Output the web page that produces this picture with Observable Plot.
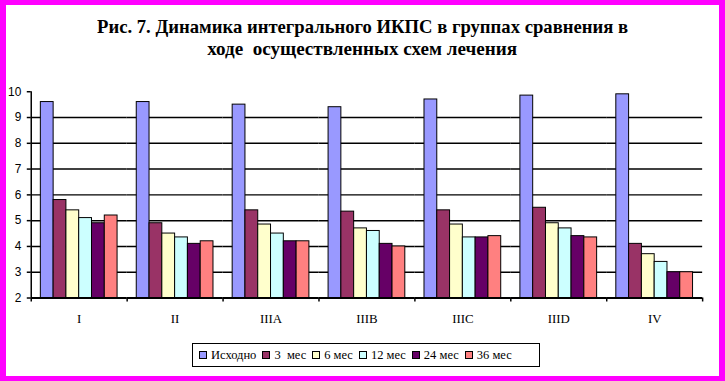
<!DOCTYPE html>
<html>
<head>
<meta charset="utf-8">
<script src="https://cdn.jsdelivr.net/npm/d3@7"></script>
<script src="https://cdn.jsdelivr.net/npm/@observablehq/plot@0.6"></script>
<style>
  html, body { margin: 0; padding: 0; background: white; }
  #page { position: relative; width: 725px; height: 381px; box-sizing: border-box;
          border-style: solid; border-color: #FF00FF; border-width: 5px 6px 5px 6px; background: white; overflow: hidden; }
  #chart { position: absolute; left: -6px; top: -5px; }
  .title { position: absolute; left: 0; width: 713px; text-align: center; white-space: nowrap;
           font-family: "Liberation Serif", "Times New Roman", serif; font-weight: bold; font-size: 19px; color: #000; }
  .title span { display: inline-block; transform-origin: center; }
  #legend { position: absolute; left: 186px; top: 338px; width: 346px; height: 22px; border: 1px solid #000;
            display: flex; align-items: center; font-family: "Liberation Serif", "Times New Roman", serif; font-size: 12.5px; color: #000; }
  .item { display: flex; align-items: center; margin-left: 6px; }
  .sw { width: 6px; height: 6px; border: 1px solid #000; margin-right: 4px; }
</style>
</head>
<body>
<div id="page">
  <div id="chart"></div>
  <div class="title" id="t1" style="top:11px"><span>Рис. 7. Динамика интегрального ИКПС в группах сравнения в</span></div>
  <div class="title" id="t2" style="top:33px"><span>ходе&nbsp; осуществленных схем лечения</span></div>
  <div id="legend"></div>
</div>
<script>
const categories = ["I", "II", "IIIA", "IIIB", "IIIC", "IIID", "IV"];
const series = ["Исходно", "3  мес", "6 мес", "12 мес", "24 мес", "36 мес"];
const colors = ["#9999FF", "#993366", "#FFFFCC", "#CCFFFF", "#660066", "#FF8080"];
const vIsh  = [9.6, 9.6, 9.5, 9.4, 9.7, 9.85, 9.9];
const v3    = [5.8, 4.9, 5.4, 5.35, 5.4, 5.5, 4.1];
const v6    = [5.4, 4.5, 4.85, 4.7, 4.85, 4.9, 3.7];
const v12   = [5.1, 4.35, 4.5, 4.6, 4.35, 4.7, 3.4];
const v24   = [4.9, 4.1, 4.2, 4.1, 4.35, 4.4, 3.0];
const v36   = [5.2, 4.2, 4.2, 4.0, 4.4, 4.35, 3.0];
const yTicks = [2, 3, 4, 5, 6, 7, 8, 9, 10];
const gridVals = [3, 4, 5, 6, 7, 8, 9];

const valueLists = [vIsh, v3, v6, v12, v24, v36];
const data = [];
categories.forEach((c, i) => series.forEach((s, j) => data.push({cat: c, series: s, value: valueLists[j][i]})));

const W = 725, H = 381, mL = 31, mR = 17, mT = 92, mB = 81;
const bw = (W - mL - mR) / categories.length;

const chart = Plot.plot({
  width: W, height: H,
  marginLeft: mL, marginRight: mR, marginTop: mT, marginBottom: mB,
  style: {background: "transparent", overflow: "visible"},
  fx: {domain: categories, padding: 0, round: false, axis: null, label: null},
  x: {domain: series, paddingInner: 0, paddingOuter: 0.75, round: false, axis: null, label: null},
  y: {domain: [2, 10], axis: null, label: null},
  color: {domain: series, range: colors},
  marks: [
    Plot.ruleY(gridVals, {stroke: "#000", strokeWidth: 1.5}),
    Plot.barY(data, {fx: "cat", x: "series", y1: 2, y2: "value", fill: "series", stroke: "#000", strokeWidth: 1}),
    Plot.ruleY([2], {stroke: "#000", strokeWidth: 2}),
    Plot.ruleX([0], {x: null, fx: () => categories[0], y1: 2, y2: 10, dx: -bw / 2, stroke: "#000", strokeWidth: 1.5}),
    Plot.axisY({ticks: yTicks, tickSize: 4, tickPadding: 6, fontSize: 12, fontFamily: "Liberation Sans, Arial, sans-serif", stroke: "#000", strokeWidth: 1.5, color: "#000", label: null}),
    Plot.axisFx({anchor: "bottom", tickSize: 0, tickPadding: 16, fontSize: 13, fontFamily: "Liberation Serif, Times New Roman, serif", color: "#000", label: null}),
    Plot.axisFx({anchor: "bottom", tickSize: 4, tickFormat: () => "", dx: -bw / 2, strokeWidth: 1.5, label: null}),
    Plot.axisFx({anchor: "bottom", ticks: [categories[categories.length - 1]], tickSize: 4, tickFormat: () => "", dx: bw / 2, strokeWidth: 1.5, label: null})
  ]
});
document.getElementById("chart").appendChild(chart);

// legend
const leg = document.getElementById("legend");
series.forEach((s, j) => {
  const it = document.createElement("div");
  it.className = "item";
  const sw = document.createElement("div");
  sw.className = "sw";
  sw.style.background = colors[j];
  const tx = document.createElement("span");
  tx.textContent = s.replace("  ", "\u00a0\u00a0");
  it.appendChild(sw); it.appendChild(tx);
  leg.appendChild(it);
});

// fit title widths
function fit(id, target) {
  const sp = document.querySelector("#" + id + " span");
  const w = sp.getBoundingClientRect().width;
  sp.style.transform = "scaleX(" + (target / w) + ")";
}
fit("t1", 531);
fit("t2", 310);
</script>
</body>
</html>
